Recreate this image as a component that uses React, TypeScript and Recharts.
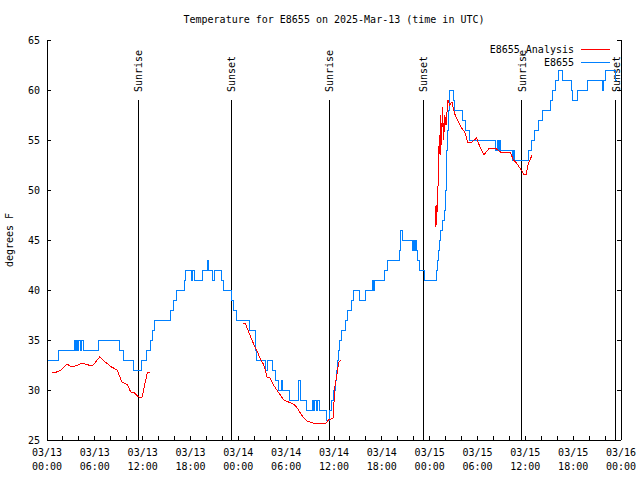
import React from 'react';
import { LineChart, Line, XAxis, YAxis, ReferenceLine } from 'recharts';

const FONT = '"DejaVu Sans Mono", monospace';
const RED = '#ff0000';
const BLUE = '#0080ff';

// x is hours since 03/13 00:00 UTC
const obsHours = [
  0.05, 1.4, 3.5, 3.6, 3.7, 3.85, 4.0, 4.15, 4.35, 4.55, 6.45, 9.05, 9.6, 10.8, 11.9, 12.45, 12.95, 13.2, 13.45,
  15.5, 15.85, 16.2, 17.2, 17.35, 18.15, 18.3, 18.45, 19.55, 20.1, 20.3, 20.75, 20.95, 21.85, 22.2, 23.2, 23.45,
  23.8, 25.4, 26.1, 26.2, 26.3, 27.4, 27.7, 28.3, 28.6, 29.05, 29.4, 29.55, 30.4, 31.6, 31.75, 32.6, 33.3, 33.45,
  33.6, 33.75, 33.9, 34.2, 35.05, 35.45, 35.65, 35.9, 36.2, 36.35, 36.5, 36.6, 36.75, 36.9, 37.5, 37.75, 38.2,
  38.5, 39.2, 40.0, 40.8, 40.9, 41.05, 42.35, 42.7, 44.2, 44.3, 44.4, 44.6, 45.9, 46.0, 46.15, 46.25, 46.4, 46.5,
  46.75, 47.4, 48.85, 48.95, 49.05, 49.2, 49.4, 49.6, 49.85, 49.95, 50.05, 50.15, 50.25, 50.35, 50.45, 50.55,
  51.0, 51.1, 52.1, 52.55, 52.95, 56.3, 56.45, 56.6, 56.75, 56.9, 58.4, 58.5, 58.6, 60.45, 60.8, 61.2, 61.6,
  62.1, 63.2, 63.45, 63.75, 64.1, 64.7, 65.8, 65.95, 66.6, 67.8, 69.7, 69.85, 70.0, 71.35, 71.45,
];
const obsTemps = [
  33, 34, 35, 34, 35, 34, 35, 34, 35, 34, 35, 34, 33, 32, 33, 34, 35, 36, 37,
  38, 39, 40, 41, 42, 41, 42, 41, 42, 43, 42, 41, 42, 41, 40, 39, 38,
  37, 36, 35, 34, 33, 32, 33, 32, 31, 30, 31, 30, 29, 31, 29, 28, 29, 28,
  29, 28, 29, 28, 27, 28, 29, 30, 31, 32, 33, 34, 35, 36, 37, 38, 39,
  40, 39, 40, 41, 40, 41, 42, 43, 44, 45, 46, 45, 44, 45, 44, 45, 44, 43,
  42, 41, 42, 43, 44, 45, 46, 47, 48, 50, 52, 54, 56, 58, 59, 60,
  59, 58, 57, 56, 55, 54, 55, 54, 55, 54, 53, 54, 53, 54, 55, 56, 57,
  58, 59, 60, 61, 62, 61, 60, 59, 60, 61, 60, 61, 62, 61, 61,
];

// null marks the gaps between analysis runs
const anaHours = [
  0.6, 1.2, 1.8, 2.5, 3.1, 3.5, 3.9, 4.4, 5.2, 5.8, 6.6, 7.3, 8.1, 8.8, 9.4, 10.1, 10.5, 11.0, 11.5, 11.9, 12.3,
  12.6, 12.9, 18,
  24.6, 24.9, 25.3, 25.7, 26.1, 26.4, 26.7, 27.2, 27.6, 28.0, 28.4, 29.0, 29.7, 30.3, 30.9, 31.3, 31.7, 32.2,
  32.6, 33.4, 34.2, 35.0, 35.3, 35.9, 36.1, 36.4, 36.6, 36.85, 42,
  48.7, 48.8, 48.85, 49.0, 49.1, 49.2, 49.3, 49.4, 49.5, 49.6, 49.75, 49.9, 50.05,
  50.3, 50.5, 50.8, 51.0, 51.2, 51.6, 52.0, 52.4, 52.8, 53.3, 53.9, 54.3, 54.8, 55.5, 56.2, 56.9, 58.1,
  58.5, 58.9, 59.4, 59.8, 60.1, 60.4, 60.85,
];
const anaTemps: (number | null)[] = [
  31.8, 31.8, 32.0, 32.6, 32.3, 32.4, 32.5, 32.7, 32.5, 32.5, 33.3, 32.8, 32.3, 32.0, 30.8, 30.5, 29.8, 29.7, 29.3, 29.2, 30.7,
  31.8, 31.8, null,
  36.7, 36.6, 35.8, 35.0, 34.3, 33.8, 33.2, 32.5, 31.3, 31.2, 30.5, 29.8, 29.0, 28.8, 28.6, 28.3, 27.8, 27.2,
  26.9, 26.7, 26.7, 26.7, 27.0, 27.2, 30.3, 31.7, 32.8, 33.0, null,
  46.3, 48.5, 46.5, 49.3, 51.5, 55.5, 53.5, 57.5, 54.5, 58.3, 55.0, 57.5, 56.5,
  59.0, 58.5, 58.8, 58.0, 57.5, 56.8, 56.2, 55.8, 54.7, 54.8, 55.2, 54.3, 53.5, 54.2, 54.2, 53.8, 53.8,
  53.0, 52.7, 52.1, 51.6, 51.6, 52.7, 53.5,
];

const sunHours = [11.45, 23.12, 35.42, 47.2, 59.55, 71.35];
const sunLabels = ['Sunrise', 'Sunset', 'Sunrise', 'Sunset', 'Sunrise', 'Sunset'];

const xTicks = Array.from({ length: 37 }, (_, i) => i * 2);
const xDayLabels = ['03/13', '03/13', '03/13', '03/13', '03/14', '03/14', '03/14', '03/14', '03/15', '03/15', '03/15', '03/15', '03/16'];
const xTimeLabels = ['00:00', '06:00', '12:00', '18:00', '00:00', '06:00', '12:00', '18:00', '00:00', '06:00', '12:00', '18:00', '00:00'];
const yTicks = [25, 30, 35, 40, 45, 50, 55, 60, 65];

const legendNames = ['E8655_Analysis', 'E8655'];
const legendColors = [RED, BLUE];

const obsData = obsHours.map((h, i) => ({ h, t: obsTemps[i] }));
const anaData = anaHours.map((h, i) => ({ h, t: anaTemps[i] }));

const txt = { fontFamily: FONT, fontSize: 10, fill: '#000' };
const axisLine = { stroke: '#000', strokeWidth: 1, shapeRendering: 'crispEdges' };

const BottomTick = (props: any) => {
  const { x, y, payload } = props;
  const h = payload.value;
  const i = h / 6;
  const major = h % 6 === 0;
  return (
    <g>
      <line x1={x} x2={x} y1={y} y2={y - 4} stroke="#000" shapeRendering="crispEdges" />
      {major && (
        <text x={x} y={y + 16} textAnchor="middle" {...txt}>{xDayLabels[i]}</text>
      )}
      {major && (
        <text x={x} y={y + 30} textAnchor="middle" {...txt}>{xTimeLabels[i]}</text>
      )}
    </g>
  );
};

const TopTick = (props: any) => {
  const { x, y } = props;
  return <line x1={x} x2={x} y1={y} y2={y + 4} stroke="#000" shapeRendering="crispEdges" />;
};

const LeftTick = (props: any) => {
  const { x, y, payload } = props;
  return (
    <g>
      <line x1={x} x2={x + 4} y1={y} y2={y} stroke="#000" shapeRendering="crispEdges" />
      <text x={x - 7} y={y + 4} textAnchor="end" {...txt}>{payload.value}</text>
    </g>
  );
};

const RightTick = (props: any) => {
  const { x, y } = props;
  return <line x1={x} x2={x - 4} y1={y} y2={y} stroke="#000" shapeRendering="crispEdges" />;
};

const sunLabel = (text: string) => (props: any) => {
  const vb = props.viewBox || {};
  const x = vb.x + 4;
  const y = vb.y - 8;
  return (
    <text x={x} y={y} transform={`rotate(-90 ${x} ${y})`} textAnchor="start" {...txt}>
      {text}
    </text>
  );
};

export default function App() {
  return (
    <div style={{ position: 'absolute', left: 0, top: 0, width: 640, height: 480, background: '#fff' }}>
      <LineChart width={640} height={480} margin={{ top: 40, right: 0, bottom: 0, left: 0 }}>
        <XAxis xAxisId="b" dataKey="h" type="number" domain={[0, 72]} ticks={xTicks} interval={0}
          height={40} tickSize={0} tickMargin={0} tickLine={false} tick={<BottomTick />} axisLine={axisLine} allowDataOverflow />
        <XAxis xAxisId="t" orientation="top" dataKey="h" type="number" domain={[0, 72]} ticks={xTicks} interval={0}
          height={0} tickSize={0} tickMargin={0} tickLine={false} tick={<TopTick />} axisLine={axisLine} allowDataOverflow />
        <YAxis yAxisId="l" type="number" domain={[25, 65]} ticks={yTicks} interval={0}
          width={47} tickSize={0} tickMargin={0} tickLine={false} tick={<LeftTick />} axisLine={axisLine} allowDataOverflow />
        <YAxis yAxisId="r" orientation="right" type="number" domain={[25, 65]} ticks={yTicks} interval={0}
          width={19} tickSize={0} tickMargin={0} tickLine={false} tick={<RightTick />} axisLine={axisLine} allowDataOverflow />
        {sunHours.map((h, i) => (
          <ReferenceLine key={i} xAxisId="b" yAxisId="l" segment={[{ x: h, y: 59 }, { x: h, y: 25 }]}
            stroke="#000" strokeWidth={1} shapeRendering="crispEdges" label={sunLabel(sunLabels[i])} />
        ))}
        <Line xAxisId="b" yAxisId="l" data={obsData} dataKey="t" type="stepAfter" stroke={BLUE}
          strokeWidth={1} shapeRendering="crispEdges" dot={false} activeDot={false} isAnimationActive={false} />
        <Line xAxisId="b" yAxisId="l" data={anaData} dataKey="t" type="linear" stroke={RED}
          strokeWidth={1} shapeRendering="crispEdges" dot={false} activeDot={false} isAnimationActive={false} />
      </LineChart>
      <svg width={640} height={480} style={{ position: 'absolute', left: 0, top: 0, pointerEvents: 'none' }}>
        <text x={334} y={23} textAnchor="middle" {...txt}>
          Temperature for E8655 on 2025-Mar-13 (time in UTC)
        </text>
        <text x={13} y={240} transform="rotate(-90 13 240)" textAnchor="middle" {...txt}>degrees F</text>
        {legendNames.map((name, i) => (
          <g key={name}>
            <text x={574} y={53 + i * 13} textAnchor="end" {...txt}>{name}</text>
            <line x1={581} x2={610} y1={49.5 + i * 13} y2={49.5 + i * 13} stroke={legendColors[i]} shapeRendering="crispEdges" />
          </g>
        ))}
      </svg>
    </div>
  );
}
